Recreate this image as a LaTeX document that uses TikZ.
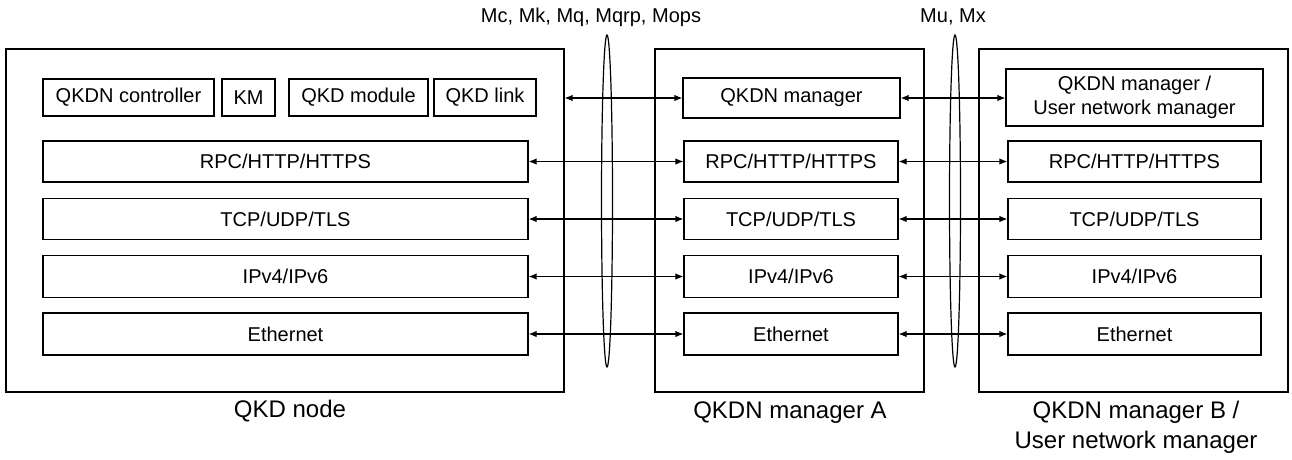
\documentclass[tikz,border=0pt]{standalone}
\usepackage{fontspec}
\setmainfont{Liberation Sans}
\usetikzlibrary{arrows.meta,shapes.geometric}
\begin{document}
\begin{tikzpicture}[x=1pt,y=-1pt,
  frame/.style={draw, line width=1.2pt, inner sep=0pt},
  box/.style={draw, line width=1.2pt, inner sep=0pt, align=center, font=\fontsize{20}{24}\selectfont},
  lbl/.style={inner sep=0pt, align=center, font=\fontsize{24}{30}\selectfont},
  toplbl/.style={inner sep=0pt, font=\fontsize{20}{24}\selectfont},
  conn/.style={{Latex[length=8pt,width=6.5pt]}-{Latex[length=8pt,width=6.5pt]}, line width=1.2pt},
  loopshape/.style={draw, ellipse, line width=1.2pt, inner sep=0pt, minimum width=11pt, minimum height=332pt}]
\useasboundingbox (0,0) rectangle (1292,459);
% outer frames
\node[frame, minimum width=558pt, minimum height=343pt] (qnode) at (285,220.5) {};
\node[frame, minimum width=269pt, minimum height=343pt] (mA) at (789.5,220.5) {};
\node[frame, minimum width=309pt, minimum height=343pt] (mB) at (1133.5,220.5) {};
% QKD node contents
\node[box, minimum width=171pt, minimum height=37pt] (ctrl) at (128.5,97.5) {QKDN controller};
\node[box, minimum width=53pt, minimum height=37pt] (km) at (248.5,97.5) {KM};
\node[box, minimum width=139pt, minimum height=37pt] (mod) at (358.5,97.5) {QKD module};
\node[box, minimum width=102pt, minimum height=37pt] (link) at (485,97.5) {QKD link};
\node[box, minimum width=485pt, minimum height=41pt] (rpcL) at (285.5,161.5) {RPC/HTTP/HTTPS};
\node[box, minimum width=485pt, minimum height=41pt] (tcpL) at (285.5,219) {TCP/UDP/TLS};
\node[box, minimum width=485pt, minimum height=42pt] (ipL) at (285.5,276.5) {IPv4/IPv6};
\node[box, minimum width=485pt, minimum height=42pt] (ethL) at (285.5,334) {Ethernet};
% manager A contents
\node[box, minimum width=217pt, minimum height=40pt] (mgrA) at (791.5,98) {QKDN manager};
\node[box, minimum width=214pt, minimum height=41pt] (rpcA) at (791,161.5) {RPC/HTTP/HTTPS};
\node[box, minimum width=214pt, minimum height=41pt] (tcpA) at (791,219) {TCP/UDP/TLS};
\node[box, minimum width=214pt, minimum height=42pt] (ipA) at (791,276.5) {IPv4/IPv6};
\node[box, minimum width=214pt, minimum height=42pt] (ethA) at (791,334) {Ethernet};
% manager B contents
\node[box, minimum width=257pt, minimum height=57pt] (mgrB) at (1134.5,97.5) {QKDN manager /\\User network manager};
\node[box, minimum width=253pt, minimum height=41pt] (rpcB) at (1134.5,161.5) {RPC/HTTP/HTTPS};
\node[box, minimum width=253pt, minimum height=41pt] (tcpB) at (1134.5,219) {TCP/UDP/TLS};
\node[box, minimum width=253pt, minimum height=42pt] (ipB) at (1134.5,276.5) {IPv4/IPv6};
\node[box, minimum width=253pt, minimum height=42pt] (ethB) at (1134.5,334) {Ethernet};
% connectors
\draw[conn] (qnode.east |- mgrA.west) -- (mgrA.west);
\draw[conn] (rpcL.east) -- (rpcA.west);
\draw[conn] (tcpL.east) -- (tcpA.west);
\draw[conn] (ipL.east) -- (ipA.west);
\draw[conn] (ethL.east) -- (ethA.west);
\draw[conn] (mgrA.east) -- (mgrA.east -| mgrB.west);
\draw[conn] (rpcA.east) -- (rpcB.west);
\draw[conn] (tcpA.east) -- (tcpB.west);
\draw[conn] (ipA.east) -- (ipB.west);
\draw[conn] (ethA.east) -- (ethB.west);
% interface bundles
\node[loopshape] (ifL) at (607,201) {};
\node[loopshape] (ifR) at (955,201) {};
\node[toplbl] (labL) at (591,17) {Mc, Mk, Mq, Mqrp, Mops};
\node[toplbl] (labR) at (953,17) {Mu, Mx};
% captions
\node[lbl] (capN) at (290,411) {QKD node};
\node[lbl] (capA) at (790,413) {QKDN manager A};
\node[lbl] (capB) at (1136,427) {QKDN manager B /\\User network manager};
\end{tikzpicture}
\end{document}
